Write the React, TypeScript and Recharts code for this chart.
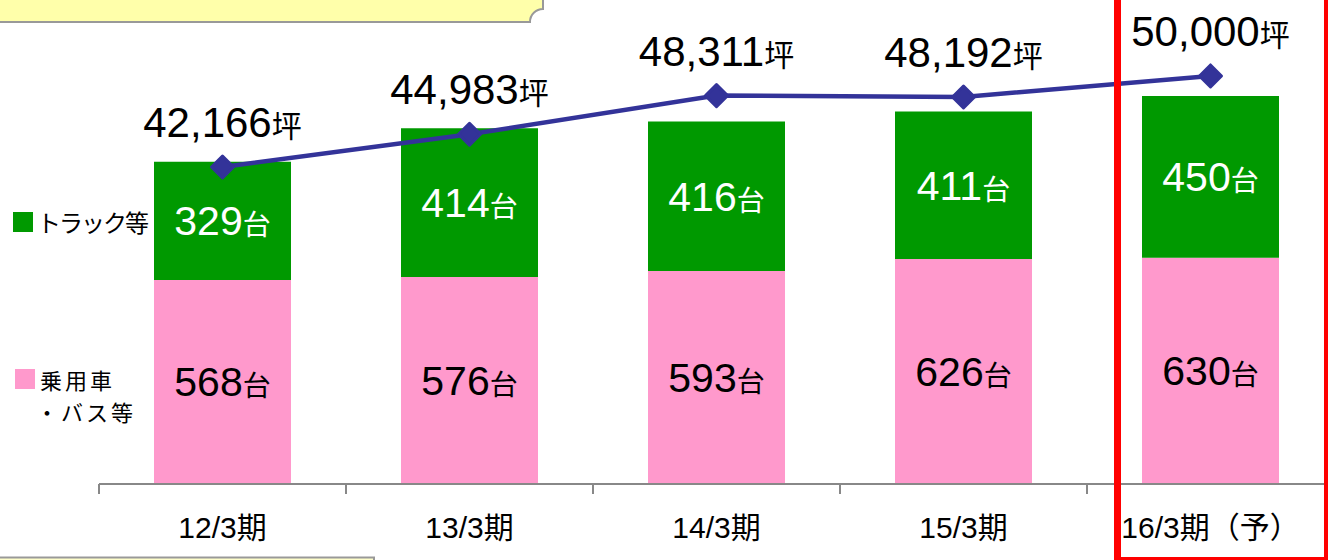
import { ComposedChart, Bar, Line, XAxis, YAxis, LabelList } from 'recharts';

const categories = ['12/3期', '13/3期', '14/3期', '15/3期', '16/3期（予）'];
const passengerCars = [568, 576, 593, 626, 630];
const trucks = [329, 414, 416, 411, 450];
const floorArea = [42166, 44983, 48311, 48192, 50000];

const data = categories.map((period, i) => ({
  period,
  passenger: passengerCars[i],
  truck: trucks[i],
  area: floorArea[i],
}));

const FONT = "'Liberation Sans', Arial, 'Noto Sans CJK JP', sans-serif";
const JP = "'Noto Sans CJK JP', sans-serif";

const fmt = (v: number) => v.toLocaleString('en-US');

function BarValue(props: any) {
  const { x, y, width, height, value, fill } = props;
  const cx = x + width / 2;
  const cy = y + height / 2;
  return (
    <text x={cx} y={cy + 14.5} textAnchor="middle" fill={fill} fontFamily={FONT}>
      <tspan fontSize={41}>{value}</tspan>
      <tspan fontSize={28} fontFamily={JP}>台</tspan>
    </text>
  );
}

function AreaValue(props: any) {
  const { x, y, value } = props;
  return (
    <text x={x} y={y - 30} textAnchor="middle" fill="#000" fontFamily={FONT}>
      <tspan fontSize={42}>{fmt(value)}</tspan>
      <tspan fontSize={30} fontFamily={JP}>坪</tspan>
    </text>
  );
}

function Diamond(props: any) {
  const { cx, cy } = props;
  if (cx == null || cy == null) return null;
  const r = 11;
  return (
    <path
      d={`M${cx},${cy - r} L${cx + r},${cy} L${cx},${cy + r} L${cx - r},${cy} Z`}
      fill="#333399"
      stroke="#333399"
      strokeWidth={3}
      strokeLinejoin="round"
    />
  );
}

function PeriodTick(props: any) {
  const { x, y, payload } = props;
  const half = payload && payload.offset ? payload.offset : 0;
  return (
    <g>
      <line x1={x - half} y1={y - 8} x2={x - half} y2={y + 2} stroke="#888888" strokeWidth={2} />
      <text x={x} y={y + 46} textAnchor="middle" fill="#000" fontSize={30} fontFamily={FONT}>
        {payload.value}
      </text>
    </g>
  );
}

export default function App() {
  return (
    <div
      style={{
        position: 'fixed',
        left: 0,
        top: 0,
        width: 1328,
        height: 560,
        overflow: 'hidden',
        background: '#fff',
      }}
    >
      {/* title plaque, cut off at the top */}
      <svg width={560} height={30} style={{ position: 'absolute', left: 0, top: 0 }}>
        <path
          d="M-4,-10 L543,-10 L543,9 A13,13 0 0 0 530,22 L-4,22 Z"
          fill="#FFFFAA"
          stroke="#999999"
          strokeWidth={2}
        />
      </svg>

      <ComposedChart
        width={1340}
        height={560}
        data={data}
        margin={{ top: 17, right: 6, bottom: 0, left: 99 }}
      >
        <XAxis
          dataKey="period"
          height={76}
          axisLine={{ stroke: '#888888', strokeWidth: 2 }}
          tickLine={false}
          tick={<PeriodTick />}
          interval={0}
        />
        <YAxis yAxisId="count" hide domain={[0, 1300]} />
        <YAxis yAxisId="area" hide orientation="right" domain={[14885, 55074]} />
        <Bar
          yAxisId="count"
          dataKey="passenger"
          stackId="cars"
          fill="#FF99CC"
          barSize={137}
          isAnimationActive={false}
        >
          <LabelList dataKey="passenger" content={(p: any) => <BarValue {...p} fill="#000" />} />
        </Bar>
        <Bar
          yAxisId="count"
          dataKey="truck"
          stackId="cars"
          fill="#009900"
          barSize={137}
          isAnimationActive={false}
        >
          <LabelList dataKey="truck" content={(p: any) => <BarValue {...p} fill="#fff" />} />
        </Bar>
        <Line
          yAxisId="area"
          dataKey="area"
          type="linear"
          stroke="#333399"
          strokeWidth={4.5}
          dot={<Diamond />}
          activeDot={false}
          isAnimationActive={false}
        >
          <LabelList dataKey="area" content={<AreaValue />} />
        </Line>
      </ComposedChart>

      {/* legend at left */}
      <div
        style={{
          position: 'absolute',
          left: 13,
          top: 206,
          fontFamily: JP,
          fontSize: 24,
          lineHeight: '32px',
          letterSpacing: -2,
          color: '#000',
          display: 'flex',
          alignItems: 'center',
        }}
      >
        <span style={{ display: 'inline-block', width: 20, height: 20, background: '#009900', marginRight: 4 }} />
        トラック等
      </div>
      <div
        style={{
          position: 'absolute',
          left: 15,
          top: 363,
          fontFamily: JP,
          fontSize: 22,
          lineHeight: '32px',
          letterSpacing: 3,
          color: '#000',
        }}
      >
        <div style={{ display: 'flex', alignItems: 'center', height: 32 }}>
          <span style={{ display: 'inline-block', width: 20, height: 20, background: '#FF99CC', marginRight: 5 }} />
          乗用車
        </div>
        <div style={{ paddingLeft: 21, height: 32 }}>・バス等</div>
      </div>

      {/* forecast highlight */}
      <div
        style={{
          position: 'absolute',
          left: 1114,
          top: -10,
          width: 217,
          height: 574,
          border: '7px solid #FF0000',
          boxSizing: 'border-box',
        }}
      />

      {/* note box peeking at bottom */}
      <svg width={380} height={10} style={{ position: 'absolute', left: 0, top: 556 }}>
        <rect x={-4} y={1.5} width={378} height={20} fill="#FFFFCC" stroke="#999999" strokeWidth={2} />
      </svg>
    </div>
  );
}
